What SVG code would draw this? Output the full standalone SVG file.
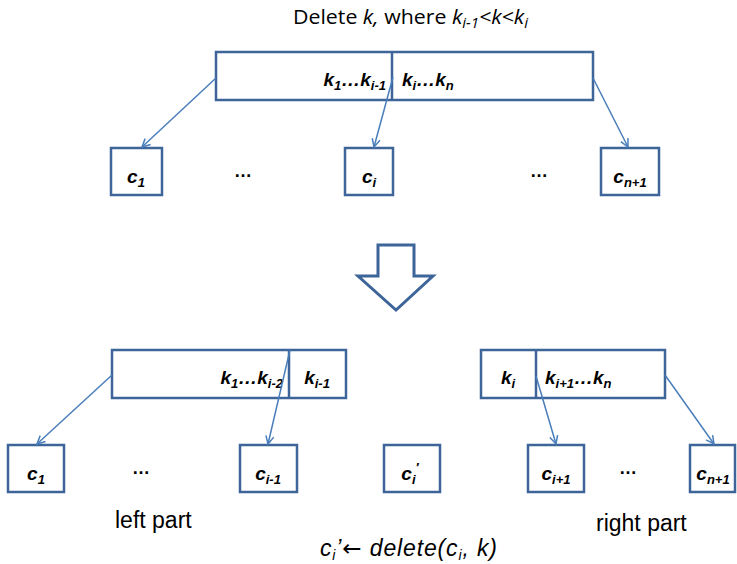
<svg xmlns="http://www.w3.org/2000/svg" width="737" height="564" viewBox="0 0 737 564">
<style>
.box{fill:#fff;stroke:#3d6599;stroke-width:2.5}
.conn{stroke:#4a7ebb;stroke-width:1.5;fill:none}
.k{font-family:"Liberation Sans",Arial,sans-serif;font-size:19px;font-weight:bold;font-style:italic;fill:#000}
.sub{font-size:13px}
.dots{font-family:"Liberation Sans",Arial,sans-serif;font-size:18px;font-weight:bold;fill:#000}
.title{font-family:"Open Sans","Liberation Sans",sans-serif;font-size:20px;fill:#000}
.lbl{font-family:"Liberation Sans",Arial,sans-serif;font-size:23px;fill:#000}
</style>
<defs>
<marker id="ah" markerWidth="12" markerHeight="12" refX="9" refY="5" orient="auto" markerUnits="userSpaceOnUse">
<path d="M1,1 L9,5 L1,9" fill="none" stroke="#4a7ebb" stroke-width="1.5"/>
</marker>
</defs>
<text class="title" x="293" y="24" textLength="235" lengthAdjust="spacingAndGlyphs">Delete <tspan font-style="italic">k,</tspan> where <tspan font-style="italic">k<tspan dy="4" font-size="14">i-1</tspan><tspan dy="-4">&lt;k&lt;k</tspan><tspan dy="4" font-size="14">i</tspan></tspan></text>

<g id="top-node">
<rect class="box" x="216" y="52" width="377" height="48"/>
<line class="box" x1="392" y1="52" x2="392" y2="100"/>
<text class="k" x="386" y="86" text-anchor="end">k<tspan class="sub" dy="4">1</tspan><tspan dy="-4">…k</tspan><tspan class="sub" dy="4">i-1</tspan></text>
<text class="k" x="402" y="86">k<tspan class="sub" dy="4">i</tspan><tspan dy="-4">…k</tspan><tspan class="sub" dy="4">n</tspan></text>
</g>
<g id="top-c1"><rect class="box" x="111" y="148" width="51" height="47"/><text class="k" x="136" y="183" text-anchor="middle">c<tspan class="sub" dy="4">1</tspan></text></g>
<g id="top-ci"><rect class="box" x="345" y="148" width="48" height="47"/><text class="k" x="369" y="183" text-anchor="middle">c<tspan class="sub" dy="4">i</tspan></text></g>
<g id="top-cn1"><rect class="box" x="601" y="148" width="58" height="47"/><text class="k" x="630" y="183" text-anchor="middle">c<tspan class="sub" dy="4">n+1</tspan></text></g>
<text class="dots" x="243" y="177" text-anchor="middle">…</text>
<text class="dots" x="539" y="177" text-anchor="middle">…</text>

<g id="down-arrow">
<path d="M378,245 L414,245 L414,276 L433,276 L396,310 L358,276 L378,276 Z" fill="#fff" stroke="#3d6599" stroke-width="3"/>
</g>

<g id="left-node">
<rect class="box" x="112" y="350" width="234" height="48"/>
<line class="box" x1="289" y1="350" x2="289" y2="398"/>
<text class="k" x="283" y="384" text-anchor="end">k<tspan class="sub" dy="4">1</tspan><tspan dy="-4">…k</tspan><tspan class="sub" dy="4">i-2</tspan></text>
<text class="k" x="317" y="384" text-anchor="middle">k<tspan class="sub" dy="4">i-1</tspan></text>
</g>
<g id="right-node">
<rect class="box" x="481" y="350" width="184" height="48"/>
<line class="box" x1="536" y1="350" x2="536" y2="398"/>
<text class="k" x="508" y="384" text-anchor="middle">k<tspan class="sub" dy="4">i</tspan></text>
<text class="k" x="545" y="384">k<tspan class="sub" dy="4">i+1</tspan><tspan dy="-4">…k</tspan><tspan class="sub" dy="4">n</tspan></text>
</g>
<g id="bot-c1"><rect class="box" x="8" y="445" width="56" height="47"/><text class="k" x="36" y="480" text-anchor="middle">c<tspan class="sub" dy="4">1</tspan></text></g>
<g id="bot-ci-1"><rect class="box" x="240" y="445" width="57" height="47"/><text class="k" x="268" y="480" text-anchor="middle">c<tspan class="sub" dy="4">i-1</tspan></text></g>
<g id="bot-ci-prime"><rect class="box" x="384" y="445" width="56" height="47"/><text class="k" x="410" y="480" text-anchor="middle">c<tspan class="sub" dy="4">i</tspan><tspan class="sub" dy="-12">′</tspan></text></g>
<g id="bot-ci1"><rect class="box" x="528" y="445" width="56" height="47"/><text class="k" x="556" y="480" text-anchor="middle">c<tspan class="sub" dy="4">i+1</tspan></text></g>
<g id="bot-cn1"><rect class="box" x="690" y="445" width="45" height="47"/><text class="k" x="713" y="480" text-anchor="middle">c<tspan class="sub" dy="4">n+1</tspan></text></g>
<text class="dots" x="141" y="474" text-anchor="middle">…</text>
<text class="dots" x="628" y="474" text-anchor="middle">…</text>

<g id="connectors">
<line class="conn" x1="216" y1="78" x2="142" y2="147" marker-end="url(#ah)"/>
<line class="conn" x1="393" y1="77" x2="374" y2="147" marker-end="url(#ah)"/>
<line class="conn" x1="593" y1="78" x2="628" y2="147" marker-end="url(#ah)"/>
<line class="conn" x1="112" y1="375" x2="37" y2="444" marker-end="url(#ah)"/>
<line class="conn" x1="290" y1="350" x2="268" y2="444" marker-end="url(#ah)"/>
<line class="conn" x1="536" y1="376" x2="556" y2="444" marker-end="url(#ah)"/>
<line class="conn" x1="665" y1="375" x2="714" y2="444" marker-end="url(#ah)"/>
</g>

<text class="lbl" x="115" y="528">left part</text>
<text class="lbl" x="596" y="531">right part</text>
<text class="lbl" x="320" y="556" font-size="22" font-style="italic" textLength="177" lengthAdjust="spacing">c<tspan font-size="14" dy="4">i</tspan><tspan dy="-4">’</tspan><tspan font-family="DejaVu Sans" font-style="normal">←</tspan> delete(c<tspan font-size="14" dy="4">i</tspan><tspan dy="-4">, k)</tspan></text>
</svg>
